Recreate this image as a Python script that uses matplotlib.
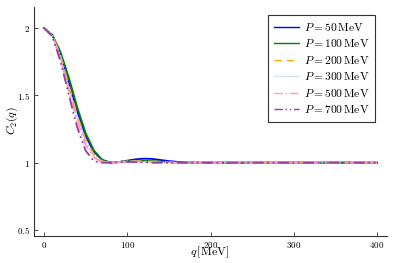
import matplotlib
matplotlib.use("Agg")
import matplotlib.pyplot as plt
import numpy as np

plt.rcParams['mathtext.fontset'] = 'cm'
plt.rcParams['font.family'] = 'DejaVu Serif'

q = [0, 10, 20, 30, 40, 50, 60, 70, 80, 90, 100, 110, 120, 130, 140, 150, 160, 170, 180,
     200, 250, 300, 350, 400]
C50 = [2.0, 1.95, 1.80, 1.59, 1.38, 1.20, 1.08, 1.02, 1.00, 1.005, 1.015, 1.025, 1.03, 1.028,
       1.02, 1.012, 1.006, 1.002, 1.0, 1.0, 1.0, 1.0, 1.0, 1.0]
C100 = [2.0, 1.95, 1.82, 1.63, 1.41, 1.22, 1.09, 1.02, 1.00, 1.005, 1.01, 1.015, 1.015, 1.012,
        1.008, 1.005, 1.002, 1.0, 1.0, 1.0, 1.0, 1.0, 1.0, 1.0]
C200 = [2.0, 1.95, 1.79, 1.57, 1.35, 1.17, 1.06, 1.01, 1.00, 1.005, 1.01, 1.012, 1.01, 1.008,
        1.005, 1.003, 1.0, 1.0, 1.0, 1.0, 1.0, 1.0, 1.0, 1.0]
C300 = [2.0, 1.95, 1.79, 1.56, 1.34, 1.16, 1.05, 1.01, 1.00, 1.005, 1.01, 1.01, 1.008, 1.005,
        1.003, 1.0, 1.0, 1.0, 1.0, 1.0, 1.0, 1.0, 1.0, 1.0]
C500 = [2.0, 1.94, 1.77, 1.53, 1.30, 1.13, 1.04, 1.00, 1.00, 1.005, 1.008, 1.008, 1.005, 1.003,
        1.0, 1.0, 1.0, 1.0, 1.0, 1.0, 1.0, 1.0, 1.0, 1.0]
C700 = [2.0, 1.94, 1.75, 1.50, 1.26, 1.09, 1.01, 1.00, 1.00, 1.003, 1.005, 1.005, 1.003, 1.0,
        1.0, 1.0, 1.0, 1.0, 1.0, 1.0, 1.0, 1.0, 1.0, 1.0]
labels = [r'$P = 50\,\mathrm{MeV}$', r'$P = 100\,\mathrm{MeV}$', r'$P = 200\,\mathrm{MeV}$',
          r'$P = 300\,\mathrm{MeV}$', r'$P = 500\,\mathrm{MeV}$', r'$P = 700\,\mathrm{MeV}$']
xticks = [0, 100, 200, 300, 400]
yticks = [0.5, 1.0, 1.5, 2.0]
ytick_labels = ['0.5', '1', '1.5', '2']

series = [C50, C100, C200, C300, C500, C700]
colors = ['#0000ff', '#008000', '#ffa500', '#a8c4f0', '#ff99cc', '#9b3da0']
styles = ['-', '-', (0, (5, 4)), (0, (1, 1)), (0, (6, 2, 1, 2)), (0, (6, 2, 1, 2, 1, 2))]

fig = plt.figure(figsize=(3.95, 2.63), dpi=100)
ax = fig.add_axes([34/395, 27/263, (387-34)/395, (236-7)/263])
for c, col, ls, lab in zip(series, colors, styles, labels):
    ax.plot(q, c, color=col, ls=ls, lw=1.3, label=lab)

ax.set_xlim(-12, 412)
ax.set_ylim(0.455, 2.157)
ax.set_xticks(xticks)
ax.set_xticklabels([f'${t}$' for t in xticks])
ax.set_yticks(yticks)
ax.set_yticklabels([f'${t}$' for t in ytick_labels])
ax.tick_params(labelsize=6.5, length=3, width=0.6, direction='in', pad=3, color='#333333')
for s in ['top', 'right']:
    ax.spines[s].set_visible(False)
for s in ['left', 'bottom']:
    ax.spines[s].set_linewidth(0.8)
    ax.spines[s].set_color('#333333')
fig.text(210/395, 1 - 252/263, r'$q\,[\mathrm{MeV}]$', fontsize=8.5, ha='center', va='center')
fig.text(12/395, 1 - 121/263, r'$C_2(q)$', fontsize=8.5, ha='center', va='center', rotation=90)
leg = ax.legend(loc='upper right', fontsize=8.3, fancybox=False, framealpha=1, edgecolor='#333333',
                handlelength=2.2, handletextpad=0.4, labelspacing=0.3, borderpad=0.5,
                borderaxespad=0)
leg.get_frame().set_linewidth(0.8)
leg.set_bbox_to_anchor((375/395, 1 - 15/263), transform=fig.transFigure)
for line in leg.get_lines():
    line.set_linewidth(1.0)
fig.savefig('out.png', dpi=100)
